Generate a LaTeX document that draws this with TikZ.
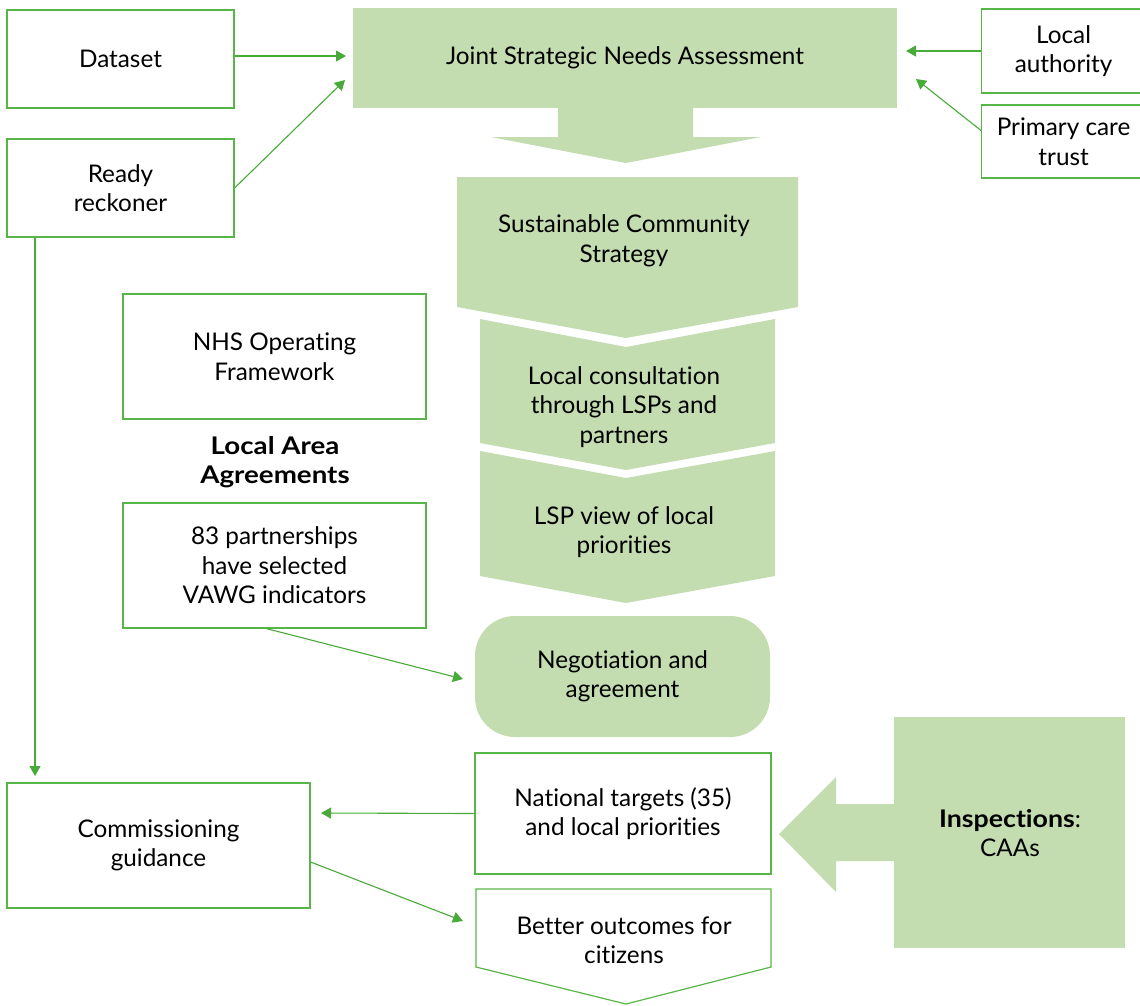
\documentclass[tikz,border=0pt]{standalone}
\usepackage{fontspec}
\setmainfont{Lato}[Ligatures={NoCommon}]
\usetikzlibrary{arrows.meta}
\definecolor{gfill}{RGB}{195,220,176}
\definecolor{gline}{RGB}{88,182,72}
\definecolor{garrow}{RGB}{72,170,56}
\begin{document}
\begin{tikzpicture}[x=1pt,y=-1pt,
  every node/.style={font=\fontsize{24.3}{29.5}\selectfont, align=center, inner sep=0pt},
  bx/.style={draw=gline, line width=1.2pt, fill=white},
  gbx/.style={fill=gfill},
  conn/.style={draw=garrow, line width=1.1pt, -{Triangle[length=10pt,width=11pt]}},
  wide/.style={font=\fontsize{24.3}{29.5}\selectfont\bfseries\addfontfeature{FakeStretch=1.14}}
]
\useasboundingbox (0,0) rectangle (1140,1005);
\fill[white] (0,0) rectangle (1140,1005);

% Left boxes
\node[bx, minimum width=227, minimum height=98] (dataset) at (120.5,59) {Dataset};
\node[bx, minimum width=227, minimum height=98] (rr) at (120.5,188) {Ready\\reckoner};
\node[bx, minimum width=303, minimum height=125] (nhs) at (274.5,356.5) {NHS Operating\\Framework};
\node[wide] (laa) at (275,462) {Local Area\\Agreements};
\node[bx, minimum width=303, minimum height=125] (p83) at (274.5,565.5) {83 partnerships\\have selected\\VAWG indicators};
\node[bx, minimum width=303, minimum height=125] (comm) at (158.5,845.5) {Commissioning\\guidance};

% Right boxes
\node[bx, minimum width=164, minimum height=84, anchor=west] (la) at (981,51) {Local\\authority};
\node[bx, minimum width=164, minimum height=73, anchor=west] (pct) at (981,141.5) {Primary care\\trust};

% JSNA with down arrow
\node[gbx, minimum width=544, minimum height=100] (jsna) at (625,58) {Joint Strategic Needs Assessment};
\fill[gfill] (558,107) -- (693,107) -- (693,137) -- (761,137) -- (626,163) -- (491,137) -- (558,137) -- cycle;

% Chevrons
\fill[gfill] (457,177) -- (798,177) -- (798,307) -- (626,338) -- (457,307) -- cycle;
\node (scs) at (624,241) {Sustainable Community\\Strategy};
\fill[gfill] (480,319) -- (626,347) -- (775,319) -- (775,443) -- (626,470) -- (480,443) -- cycle;
\node (lc) at (624,407) {Local consultation\\through LSPs and\\partners};
\fill[gfill] (480,451) -- (626,478) -- (775,451) -- (775,576) -- (626,603) -- (480,576) -- cycle;
\node (lsp) at (624,532) {LSP view of local\\priorities};

% Negotiation
\node[gbx, rounded corners=40pt, minimum width=295, minimum height=121] (neg) at (622.5,676.5) {Negotiation and\\agreement};

% National targets
\node[bx, minimum width=296, minimum height=121] (nat) at (623,813.5) {National targets (35)\\and local priorities};

% Better outcomes
\draw[draw=gline, line width=1.2pt, fill=white] (476,889) -- (771,889) -- (771,967) -- (626,1004) -- (476,967) -- cycle;
\node (better) at (624,940) {Better outcomes for\\citizens};

% Inspections
\fill[gfill] (894,717) rectangle (1125,948);
\fill[gfill] (895,804) -- (836,804) -- (836,777) -- (779,834) -- (836,892) -- (836,861) -- (895,861) -- cycle;
\node (insp) at (1010,833) {{\bfseries\addfontfeature{FakeStretch=1.1}Inspections}:\\CAAs};

% Connector end points
\coordinate (t1) at (346,56);
\coordinate (t2) at (345,80);
\coordinate (t3) at (906,51);
\coordinate (t4) at (916,79);
\coordinate (t5) at (463,679);
\coordinate (t6) at (35,776);
\coordinate (t7) at (321,813);
\coordinate (t8) at (463,921);

\draw[conn] (dataset.east |- t1) -- (t1);
\draw[conn] (rr.east) -- (t2);
\draw[conn] (la.west) -- (t3);
\draw[conn] ([yshift=11pt]pct.west) -- (t4);
\draw[conn] ([xshift=-8pt]p83.south) -- (t5);
\draw[conn] (rr.south west -| t6) -- (t6);
\draw[conn] (nat.west) -- (t7);
\draw[conn] ([yshift=-16.5pt]comm.east) -- (t8);
\end{tikzpicture}
\end{document}
